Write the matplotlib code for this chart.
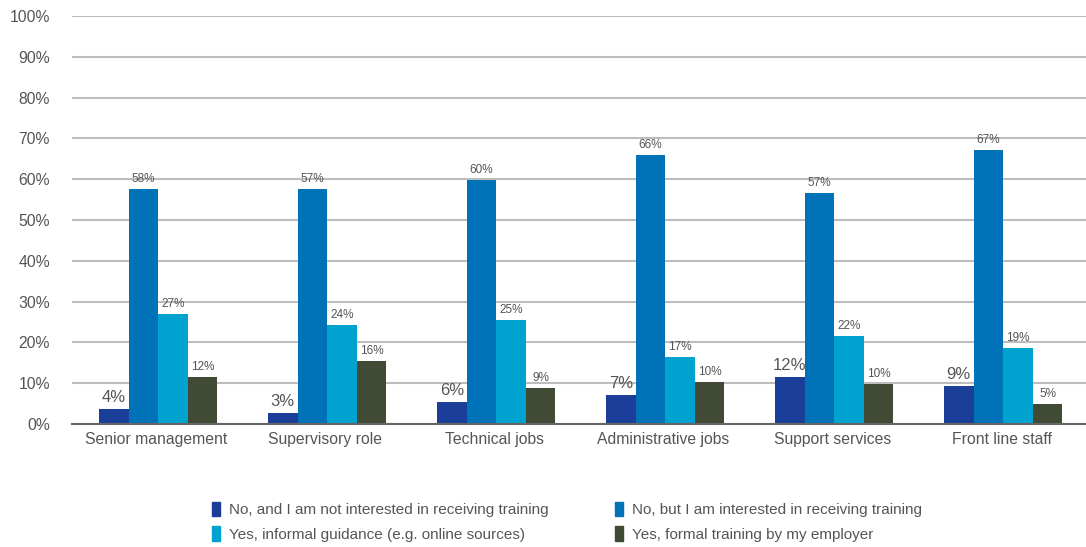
import numpy as np
import matplotlib.pyplot as plt
from matplotlib.patches import Patch

plt.rcParams['font.family'] = ['Liberation Sans', 'DejaVu Sans']

# データ
categories = ["Senior management", "Supervisory role", "Technical jobs",
              "Administrative jobs", "Support services", "Front line staff"]
series_names = ["No, and I am not interested in receiving training",
                "No, but I am interested in receiving training",
                "Yes, informal guidance (e.g. online sources)",
                "Yes, formal training by my employer"]
not_interested = [3.7, 2.7, 5.4, 7.1, 11.5, 9.3]
interested = [57.6, 57.6, 59.8, 65.9, 56.6, 67.2]
informal = [27.0, 24.3, 25.5, 16.4, 21.6, 18.6]
formal = [11.5, 15.4, 8.8, 10.3, 9.8, 4.9]
labels_not_interested = ["4%", "3%", "6%", "7%", "12%", "9%"]
labels_interested = ["58%", "57%", "60%", "66%", "57%", "67%"]
labels_informal = ["27%", "24%", "25%", "17%", "22%", "19%"]
labels_formal = ["12%", "16%", "9%", "10%", "10%", "5%"]

colors = ["#1b3f98", "#0072b7", "#00a3d0", "#414a35"]
text_c = "#555555"

fig = plt.figure(figsize=(10.86, 5.47), dpi=100, facecolor="white")
ax = fig.add_axes([72/1086, 123/547, 1 - 72/1086, 408/547])

x = np.arange(len(categories))
w = 0.175
series = [not_interested, interested, informal, formal]
labels = [labels_not_interested, labels_interested, labels_informal, labels_formal]
for i, (vals, labs) in enumerate(zip(series, labels)):
    pos = x + (i - 1.5) * w + 0.01
    ax.bar(pos, vals, w, color=colors[i], zorder=3)
    for p, v, t in zip(pos, vals, labs):
        if i == 0:
            ax.text(p, v + 1.0, t, ha="center", va="bottom", fontsize=12, color=text_c)
        else:
            ax.text(p, v + 0.9, t, ha="center", va="bottom", fontsize=8.5, color=text_c)

ax.set_xlim(-0.5, len(categories) - 0.5)
ax.set_ylim(0, 100)
ax.set_yticks(np.arange(0, 101, 10))
ax.set_yticklabels([f"{t}%" for t in range(0, 101, 10)])
ax.set_xticks(x)
ax.set_xticklabels(categories)
ax.tick_params(axis="both", length=0, labelsize=11.3, labelcolor=text_c)
ax.tick_params(axis="y", pad=16)
ax.tick_params(axis="x", pad=6)
for lab in ax.get_yticklabels():
    lab.set_horizontalalignment("right")
ax.yaxis.grid(True, color="#bdbdbd", linewidth=1.5, zorder=0)
for s in ["top", "right", "left"]:
    ax.spines[s].set_visible(False)
ax.spines["bottom"].set_color("#666666")
ax.spines["bottom"].set_linewidth(1.5)
ax.spines["bottom"].set_zorder(4)

# 凡例 (行ごとに並べる)
order = [0, 2, 1, 3]
handles = [Patch(color=colors[k]) for k in order]
names = [series_names[k] for k in order]
fig.legend(handles, names, loc="upper left", bbox_to_anchor=(198/1086, 1 - 488/547),
           ncol=2, frameon=False, fontsize=11, labelcolor=text_c,
           handlelength=0.55, handleheight=1.1, handletextpad=0.6,
           columnspacing=4.3, labelspacing=0.6)

fig.savefig("out.png", dpi=100, facecolor="white")
